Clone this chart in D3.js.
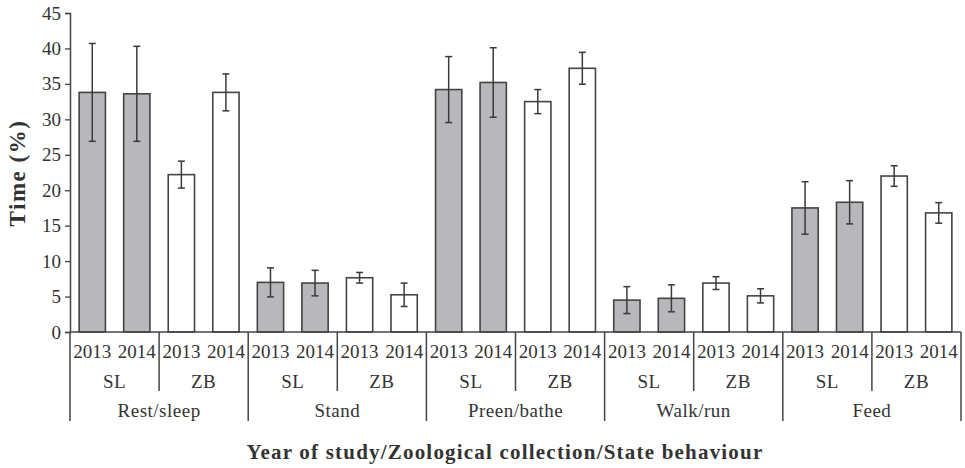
<!DOCTYPE html>
<html>
<head>
<meta charset="utf-8">
<script src="https://cdn.jsdelivr.net/npm/d3@7"></script>
<style>
  html, body { margin: 0; padding: 0; background: #fff; }
  svg { display: block; }
  text { font-family: "Liberation Serif", "DejaVu Serif", serif; fill: #333; }
</style>
</head>
<body>
<svg id="chart" width="965" height="468"></svg>
<script>
// Behaviour categories, collections and study years (x-axis hierarchy)
const behaviours = ["Rest/sleep", "Stand", "Preen/bathe", "Walk/run", "Feed"];
const collections = ["SL", "ZB"];
const years = ["2013", "2014"];

// Mean time (%) per behaviour for each collection/year
const SL2013 = [33.8, 7.0, 34.2, 4.5, 17.5];
const SL2014 = [33.6, 6.9, 35.2, 4.75, 18.3];
const ZB2013 = [22.2, 7.65, 32.5, 6.9, 22.0];
const ZB2014 = [33.8, 5.25, 37.2, 5.1, 16.8];

// Error (±) per behaviour for each collection/year
const SL2013err = [6.9, 2.05, 4.65, 1.9, 3.7];
const SL2014err = [6.7, 1.8, 4.9, 1.9, 3.05];
const ZB2013err = [1.9, 0.75, 1.7, 0.9, 1.45];
const ZB2014err = [2.6, 1.65, 2.25, 1.0, 1.45];

const yTicks = [0, 5, 10, 15, 20, 25, 30, 35, 40, 45];

const seriesMeans = { SL: { "2013": SL2013, "2014": SL2014 }, ZB: { "2013": ZB2013, "2014": ZB2014 } };
const seriesErrs = { SL: { "2013": SL2013err, "2014": SL2014err }, ZB: { "2013": ZB2013err, "2014": ZB2014err } };

const rows = [];
behaviours.forEach((b, bi) => {
  collections.forEach(c => {
    years.forEach(yr => {
      rows.push({ key: b + "|" + c + "|" + yr, behaviour: b, collection: c, year: yr,
        mean: seriesMeans[c][yr][bi], err: seriesErrs[c][yr][bi] });
    });
  });
});

const svg = d3.select("#chart");
const plotLeft = 70, plotRight = 961, plotTop = 13, plotBottom = 332;

const x = d3.scaleBand().domain(rows.map(d => d.key)).range([plotLeft, plotRight])
  .paddingInner(0.41).paddingOuter(0.205);
const xBeh = d3.scaleBand().domain(behaviours).range([plotLeft, plotRight]);
const y = d3.scaleLinear().domain([0, 45]).range([plotBottom, plotTop]);

const fillFor = { SL: "#b8b8bc", ZB: "#ffffff" };
const ink = "#3a3a3a";

// Bars
svg.append("g").selectAll("rect").data(rows).join("rect")
  .attr("x", d => x(d.key))
  .attr("y", d => y(d.mean))
  .attr("width", x.bandwidth())
  .attr("height", d => y(0) - y(d.mean))
  .attr("fill", d => fillFor[d.collection])
  .attr("stroke", "#444")
  .attr("stroke-width", 1.6);

// Error bars
const eb = svg.append("g").attr("stroke", ink).attr("stroke-width", 1.5).attr("fill", "none");
rows.forEach(d => {
  const cx = x(d.key) + x.bandwidth() / 2;
  const y1 = y(d.mean + d.err), y2 = y(d.mean - d.err);
  eb.append("line").attr("x1", cx).attr("x2", cx).attr("y1", y1).attr("y2", y2);
  eb.append("line").attr("x1", cx - 3.5).attr("x2", cx + 3.5).attr("y1", y1).attr("y2", y1);
  eb.append("line").attr("x1", cx - 3.5).attr("x2", cx + 3.5).attr("y1", y2).attr("y2", y2);
});

// Y axis
const yAxis = svg.append("g").attr("transform", `translate(${plotLeft},0)`)
  .call(d3.axisLeft(y).tickValues(yTicks).tickSize(5).tickPadding(4).tickFormat(d3.format("d")));
yAxis.select(".domain").attr("stroke", "#444").attr("stroke-width", 1.5);
yAxis.selectAll(".tick line").attr("stroke", "#444").attr("stroke-width", 1.3);
yAxis.selectAll(".tick text").attr("font-size", 19).attr("font-family", "Liberation Serif, serif").attr("fill", "#333");

// X axis baseline
svg.append("line").attr("x1", plotLeft).attr("x2", plotRight).attr("y1", plotBottom).attr("y2", plotBottom)
  .attr("stroke", "#444").attr("stroke-width", 1.5);

// Year labels
svg.append("g").selectAll("text").data(rows).join("text")
  .attr("x", d => x(d.key) + x.bandwidth() / 2)
  .attr("y", 358)
  .attr("text-anchor", "middle")
  .attr("font-size", 19)
  .text(d => d.year);

// Collection labels and dividers
const groups = [];
behaviours.forEach(b => collections.forEach(c => groups.push({ b, c })));
const groupWidth = xBeh.bandwidth() / collections.length;
const gLines = svg.append("g").attr("stroke", "#444").attr("stroke-width", 1.5);
groups.forEach(g => {
  const gx = xBeh(g.b) + collections.indexOf(g.c) * groupWidth;
  svg.append("text").attr("x", gx + groupWidth / 2).attr("y", 388)
    .attr("text-anchor", "middle").attr("font-size", 19).attr("letter-spacing", 0.5).text(g.c);
  if (collections.indexOf(g.c) > 0) {
    gLines.append("line").attr("x1", gx).attr("x2", gx).attr("y1", plotBottom).attr("y2", 391);
  }
});

// Behaviour labels and dividers
behaviours.forEach(b => {
  svg.append("text").attr("x", xBeh(b) + xBeh.bandwidth() / 2).attr("y", 417)
    .attr("text-anchor", "middle").attr("font-size", 19).attr("letter-spacing", 0.5).text(b);
});
behaviours.concat([null]).forEach(b => {
  const bx = b === null ? plotRight : xBeh(b);
  gLines.append("line").attr("x1", bx).attr("x2", bx).attr("y1", plotBottom).attr("y2", 421);
});

// Axis titles
svg.append("text").attr("x", 505).attr("y", 459).attr("text-anchor", "middle")
  .attr("font-size", 21).attr("font-weight", "bold").attr("letter-spacing", 1.2).attr("fill", "#222")
  .text("Year of study/Zoological collection/State behaviour");

svg.append("text").attr("transform", "translate(25,173) rotate(-90)")
  .attr("text-anchor", "middle").attr("font-size", 23).attr("font-weight", "bold").attr("letter-spacing", 1.5).attr("fill", "#222")
  .text("Time (%)");
</script>
</body>
</html>
